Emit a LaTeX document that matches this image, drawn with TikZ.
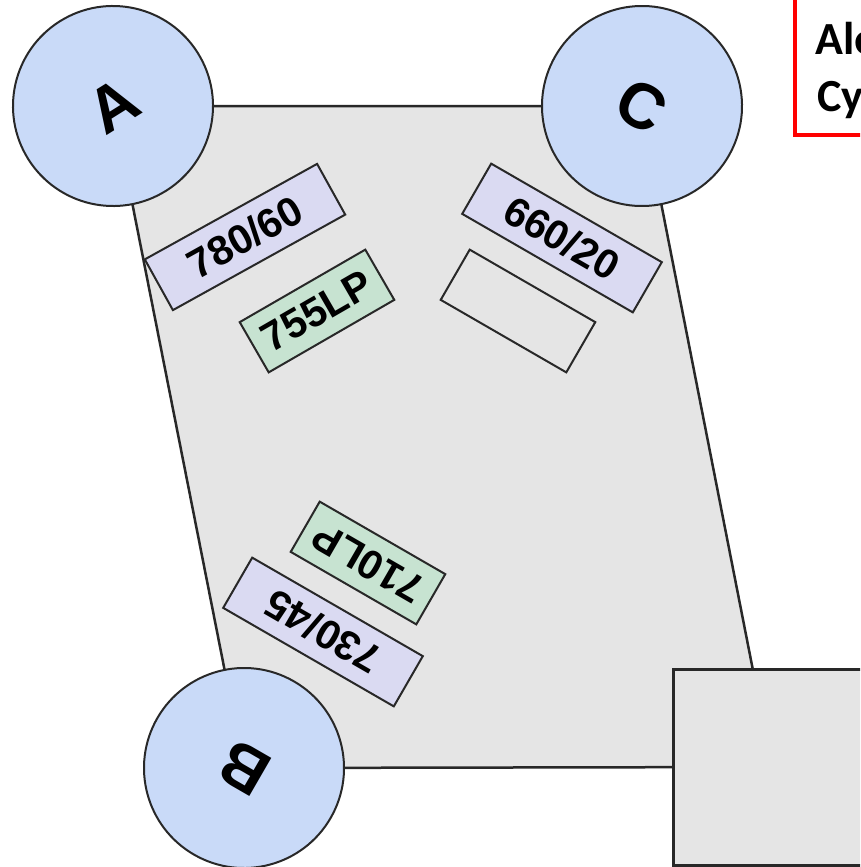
\documentclass[tikz,border=0pt]{standalone}
\usepackage{fontspec}
\setmainfont{Liberation Sans}
\newfontfamily\notefont{Carlito}
\usetikzlibrary{positioning}

\definecolor{cornerblue}{RGB}{201,218,248}
\definecolor{bodygray}{RGB}{229,229,229}
\definecolor{bpfill}{RGB}{218,218,242}
\definecolor{lpfill}{RGB}{199,227,209}
\definecolor{edgegray}{RGB}{40,40,40}

\begin{document}
\begin{tikzpicture}[x=1pt,y=-1pt,
  corner/.style={circle,draw=edgegray,line width=2pt,fill=cornerblue,minimum size=200pt,inner sep=0pt,font=\bfseries\fontsize{64}{66}\selectfont},
  filt/.style={rectangle,draw=edgegray,line width=2pt,minimum height=58pt,inner sep=0pt,font=\bfseries\fontsize{41}{44}\selectfont},
  bp/.style={filt,fill=bpfill,minimum width=197pt},
  lp/.style={filt,fill=lpfill,minimum width=145pt}]

\useasboundingbox (0,0) rectangle (860,867);
\clip (0,0) rectangle (860,867);

\coordinate (pA) at (113,106);
\coordinate (pC) at (642,106);
\coordinate (pD) at (772,767);
\coordinate (pB) at (244,768);

\filldraw[draw=edgegray,fill=bodygray,line width=2.5pt] (pA) -- (pC) -- (pD) -- (pB) -- cycle;

\node[corner,rotate=32] (A) at (pA) {A};
\node[corner,rotate=-30] (C) at (pC) {C};
\node[corner,rotate=150] (B) at (pB) {B};
\node[draw=edgegray,fill=bodygray,line width=3pt,minimum width=198pt,minimum height=196pt] (D) at (pD) {};

% filters
\node[bp,rotate=29] (f780) at (245,237) {780/60};
\node[lp,rotate=30] (f755) at (317,311) {755LP};
\node[bp,rotate=-30] (f660) at (562,238) {660/20};
\node[lp,fill=none,rotate=-30] (blank) at (518,311) {};
\node[lp,rotate=150] (f710) at (368,563) {710LP};
\node[bp,rotate=150] (f730) at (323,632) {730/45};

\draw[red,line width=4pt] (795,-20) rectangle (1000,135);
\node[anchor=base west,inner sep=0pt,font=\notefont\bfseries\fontsize{46}{56}\selectfont] (dye1) at (815,55) {Ale};
\node[anchor=base west,inner sep=0pt,font=\notefont\bfseries\fontsize{46}{56}\selectfont] (dye2) at (817,111) {Cy};

\end{tikzpicture}
\end{document}
